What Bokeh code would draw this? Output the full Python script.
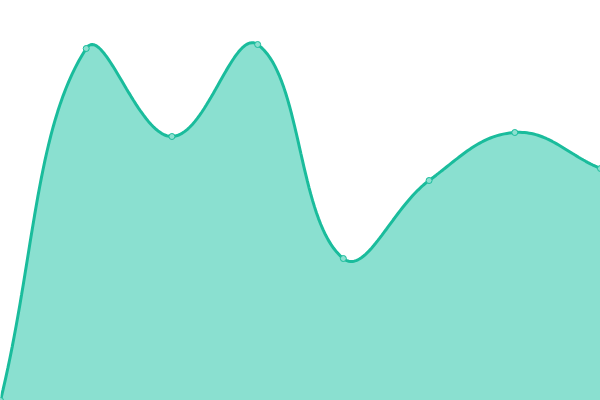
import numpy as np
from bokeh.plotting import figure
from bokeh.models import Range1d
from bokeh.embed import file_html
from bokeh.resources import INLINE

# data
labels = ["1", "2", "3", "4", "5", "6", "7", "8"]
values = [0, 88, 66, 89, 35.5, 55, 67, 58]

W, H = 600, 400
X_MAX = len(values) - 1
Y_MIN, Y_MAX = 0, 100
TENSION = 0.4

xs = np.arange(len(values), dtype=float)
ys = np.array(values, dtype=float)

# pixel-space coordinates for spline control point computation
sx = W / X_MAX
sy = H / (Y_MAX - Y_MIN)
px = xs * sx
py = (ys - Y_MIN) * sy

n = len(values)
cp_prev = []
cp_next = []
for i in range(n):
    p0 = (px[max(i - 1, 0)], py[max(i - 1, 0)])
    p1 = (px[i], py[i])
    p2 = (px[min(i + 1, n - 1)], py[min(i + 1, n - 1)])
    d01 = np.hypot(p1[0] - p0[0], p1[1] - p0[1])
    d12 = np.hypot(p2[0] - p1[0], p2[1] - p1[1])
    tot = d01 + d12
    s01 = d01 / tot if tot else 0
    s12 = d12 / tot if tot else 0
    fa = TENSION * s01
    fb = TENSION * s12
    dx, dy = p2[0] - p0[0], p2[1] - p0[1]
    prev = (p1[0] - fa * dx, p1[1] - fa * dy)
    nxt = (p1[0] + fb * dx, p1[1] + fb * dy)
    clamp = lambda q: (min(max(q[0], 0), W), min(max(q[1], 0), H))
    cp_prev.append(clamp(prev))
    cp_next.append(clamp(nxt))

cx, cy = [], []
t = np.linspace(0, 1, 40)
for i in range(n - 1):
    a = np.array([px[i], py[i]])
    b = np.array(cp_next[i])
    c = np.array(cp_prev[i + 1])
    d = np.array([px[i + 1], py[i + 1]])
    for tt in (t if i == 0 else t[1:]):
        q = (1 - tt) ** 3 * a + 3 * (1 - tt) ** 2 * tt * b + 3 * (1 - tt) * tt ** 2 * c + tt ** 3 * d
        cx.append(q[0] / sx)
        cy.append(q[1] / sy + Y_MIN)

p = figure(width=W, height=H, output_backend="svg", toolbar_location=None,
           x_range=Range1d(0, X_MAX), y_range=Range1d(Y_MIN, Y_MAX),
           min_border=0, outline_line_color=None)
p.axis.visible = False
p.grid.visible = False
p.background_fill_color = "white"
p.border_fill_color = "white"

p.varea(x=cx, y1=[Y_MIN] * len(cy), y2=cy, fill_color="#8ae0d0", fill_alpha=1.0)
p.line(cx, cy, line_color="#1abc9c", line_width=3)
p.scatter(xs, ys, size=6, fill_color="#8ce0d0", line_color="#1abc9c", line_width=1)

open("out.html", "w").write(file_html(p, INLINE))
